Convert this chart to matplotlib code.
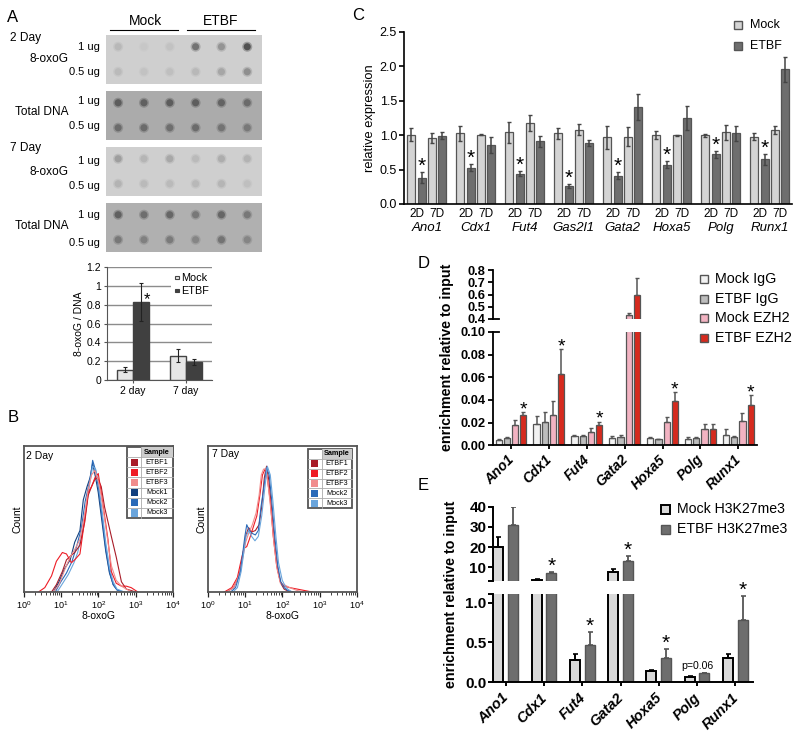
import numpy as np
import matplotlib
matplotlib.use('Agg')
import matplotlib.pyplot as plt
from matplotlib.patches import Rectangle
from matplotlib.transforms import ScaledTranslation

plt.rcParams['font.family'] = ['Liberation Sans', 'DejaVu Sans']
plt.rcParams['mathtext.default'] = 'regular'

# ---- panel A dot blots, grey level of every dot
blot_bg = [.81, .67, .81, .69]
blot_dots = [
	[[.72,.78,.76,.45,.58,.32], [.73,.76,.75,.72,.65,.56]],
	[[.36,.38,.36,.37,.39,.42], [.42,.42,.43,.42,.45,.47]],
	[[.62,.71,.66,.73,.68,.70], [.70,.73,.73,.72,.71,.75]],
	[[.38,.43,.40,.47,.40,.47], [.47,.50,.48,.52,.45,.52]],
]
# ---- panel A bars
a_days = ['2 day', '7 day']
a_mock = [.11, .26]
a_mock_err = [.03, .065]
a_etbf = [.83, .195]
a_etbf_err = [.2, .03]

# ---- panel B histograms, log10 of signal and count in percent of the y axis
b2_etbf1_x = [.75,.88,1.04,1.15,1.28,1.37,1.51,1.64,1.73,1.82,1.91,1.98,2.08,2.17,2.26,2.35,2.48,2.62,2.75,2.88,3.0]
b2_etbf1_y = [0,5,14,22,25,27,32,48,66,72,77,78,72,58,48,38,24,7,2,1,0]
b2_etbf2_x = [.40,.57,.75,.88,1.04,1.15,1.28,1.37,1.51,1.64,1.73,1.82,1.91,2.0,2.08,2.17,2.26,2.35,2.48,2.62,2.75,2.88,3.06]
b2_etbf2_y = [0,3,11,21,27,26,20,22,26,50,68,72,78,81,68,52,36,14,6,4,4,3,0]
b2_etbf3_x = [.8,.95,1.1,1.25,1.37,1.51,1.64,1.73,1.82,1.91,2.0,2.08,2.17,2.26,2.35,2.48,2.62,2.75,2.9]
b2_etbf3_y = [0,5,15,24,29,36,54,70,80,83,76,66,50,34,18,8,4,2,0]
b2_mock1_x = [.8,.95,1.1,1.25,1.37,1.51,1.6,1.7,1.78,1.85,1.93,2.0,2.1,2.2,2.3,2.4,2.5,2.65]
b2_mock1_y = [0,7,16,22,34,42,63,72,78,88,78,68,48,28,13,5,1.5,0]
b2_mock2_x = [.85,1.0,1.15,1.3,1.42,1.55,1.65,1.72,1.8,1.85,1.93,2.0,2.1,2.2,2.3,2.4,2.5,2.65]
b2_mock2_y = [0,7,13,21,31,44,62,70,80,90,83,72,52,30,14,5,1.5,0]
b2_mock3_x = [.9,1.05,1.2,1.35,1.45,1.58,1.68,1.76,1.85,1.93,2.0,2.1,2.2,2.3,2.4,2.5,2.7]
b2_mock3_y = [0,6,12,20,27,42,58,72,86,84,75,56,34,17,7,2,0]

b7_etbf1_x = [.5,.7,.85,.95,1.02,1.1,1.18,1.28,1.38,1.45,1.52,1.58,1.65,1.72,1.8,1.88,1.96,2.05,2.2]
b7_etbf1_y = [0,3,12,26,38,44,41,42,46,58,78,86,75,55,32,15,6,2,0]
b7_etbf2_x = [.45,.65,.8,.92,.98,1.05,1.12,1.22,1.32,1.4,1.47,1.54,1.6,1.68,1.76,1.85,1.95,2.05,2.2,2.4,2.6,2.8]
b7_etbf2_y = [0,3,10,24,30,31,36,44,52,66,80,84,78,62,38,18,7,4,3,2,1,0]
b7_etbf3_x = [.5,.7,.85,.95,1.02,1.1,1.2,1.3,1.38,1.44,1.5,1.56,1.62,1.7,1.78,1.86,1.95,2.05,2.2,2.4,2.6]
b7_etbf3_y = [0,3,12,24,34,40,46,54,66,80,84,84,74,55,33,16,6,5,3,1,0]
b7_mock2_x = [.62,.75,.88,.95,1.0,1.05,1.12,1.2,1.28,1.36,1.43,1.5,1.58,1.65,1.72,1.8,1.88,1.96,2.05,2.15,2.3]
b7_mock2_y = [0,3,14,28,38,46,42,40,39,42,58,70,85,80,62,38,18,7,3,1,0]
b7_mock3_x = [.68,.8,.9,.97,1.03,1.1,1.18,1.27,1.36,1.45,1.52,1.6,1.68,1.75,1.83,1.9,2.0,2.1,2.25]
b7_mock3_y = [0,3,14,27,38,42,38,35,38,52,68,86,80,62,38,20,8,3,0]

# ---- panel C
c_genes = ['Ano1','Cdx1','Fut4','Gas2l1','Gata2','Hoxa5','Polg','Runx1']
c_mock2 = [1.01,1.03,1.04,1.03,.97,1.0,1.0,.98]
c_etbf2 = [.38,.53,.44,.26,.41,.57,.72,.65]
c_mock7 = [.96,1.01,1.18,1.08,.98,1.0,1.04,1.08]
c_etbf7 = [.99,.86,.91,.89,1.41,1.25,1.03,1.96]
c_mock2_err = [.09,.11,.15,.08,.17,.06,.02,.05]
c_etbf2_err = [.08,.05,.04,.03,.05,.05,.05,.08]
c_mock7_err = [.07,.01,.12,.08,.14,.01,.11,.06]
c_etbf7_err = [.05,.12,.08,.04,.19,.18,.11,.18]

# ---- panel D
d_genes = ['Ano1','Cdx1','Fut4','Gata2','Hoxa5','Polg','Runx1']
d_mock_igg = [.005,.0185,.008,.0065,.0065,.006,.0095]
d_etbf_igg = [.0065,.021,.008,.0075,.0055,.0065,.0075]
d_mock_ezh2 = [.0175,.027,.0115,.43,.021,.014,.0215]
d_etbf_ezh2 = [.0265,.063,.018,.60,.0395,.0145,.036]
d_mock_igg_err = [.0005,.0075,.0015,.0015,.001,.001,.005]
d_etbf_igg_err = [.001,.008,.0015,.0015,.0005,.001,.001]
d_mock_ezh2_err = [.0045,.012,.0035,.02,.004,.0045,.007]
d_etbf_ezh2_err = [.003,.022,.003,.135,.0075,.004,.008]
d_stars = [True,True,True,False,True,False,True]

# ---- panel E
e_genes = ['Ano1','Cdx1','Fut4','Gata2','Hoxa5','Polg','Runx1']
e_mock = [20,3.7,.28,7.8,.14,.07,.30]
e_etbf = [31,7,.47,13.3,.30,.115,.78]
e_mock_err = [5,.4,.07,1.3,.015,.015,.06]
e_etbf_err = [9,.7,.16,2.4,.12,.005,.30]
e_stars = [False,True,True,True,True,False,True]

fig = plt.figure(figsize=(8,7.34), dpi=100)

def px_axes(x0,y0,x1,y1):
	# axes from pixel box, y counted from top of the picture
	return fig.add_axes([x0/800., 1-y1/734., (x1-x0)/800., (y1-y0)/734.])

def clean(ax,lw=1.,col='k',size=9,bold=False):
	ax.spines['top'].set_visible(False)
	ax.spines['right'].set_visible(False)
	ax.spines['left'].set_linewidth(lw)
	ax.spines['bottom'].set_linewidth(lw)
	ax.spines['left'].set_color(col)
	ax.spines['bottom'].set_color(col)
	ax.patch.set_alpha(0)
	ax.tick_params(width=lw,color=col,labelsize=size,length=3.5,pad=1.5)
	if bold:
		for t in ax.get_yticklabels(): t.set_fontweight('bold')

def star(ax,x,y,off=1.,size=15):
	ax.annotate('*',xy=(x,y),xytext=(0,off),textcoords='offset points',ha='center',va='center',
		fontsize=size,annotation_clip=False,color='k')

def shift_labels(ax,dx):
	# rotated gene names sit a few pixels left of the anchor
	for t in ax.get_xticklabels():
		t.set_transform(t.get_transform()+ScaledTranslation(dx/100.,0,fig.dpi_scale_trans))

# ##################### A blots ########################
blot_boxes = [(35,84),(91,140),(147,196),(203,252)]
col_ind = np.arange(6)
for box,bg,rows in zip(blot_boxes,blot_bg,blot_dots):
	ax = px_axes(106,box[0],261.7,box[1])
	ax.set_facecolor(str(bg))
	ax.set_xlim(-.47,5.56)
	ax.set_ylim(1.49,-.47)
	ax.set_xticks([])
	ax.set_yticks([])
	for s in ax.spines.values(): s.set_visible(False)
	for r,row in enumerate(rows):
		greys = np.array(row)
		halo = [(g,g,g,.4) for g in greys]
		core = [(g,g,g,1.) for g in greys]
		ax.scatter(col_ind,[r]*6,s=52,c=halo,linewidths=0)
		ax.scatter(col_ind,[r]*6,s=26,c=core,linewidths=0)

# ##################### A bars ########################
ax = px_axes(106.5,267.3,212,380)
xpos = np.arange(2)
wd = .302
ax.set_xlim(-.198,1.792)
ax.set_ylim(0,1.2)
ax.set_yticks(np.arange(0,1.21,.2))
ax.set_yticklabels(['0','0.2','0.4','0.6','0.8','1','1.2'])
ax.set_xticks(xpos+wd)
ax.set_xticklabels(a_days)
ax.set_axisbelow(True)
ax.yaxis.grid(True,color='#8c8c8c',lw=1)
ebar = dict(ecolor='#222222',elinewidth=.8,capsize=1.5,capthick=.8)
ax.bar(xpos,a_mock,wd,yerr=a_mock_err,color='#e6e6e6',edgecolor='#444444',lw=1,error_kw=ebar,align='edge',zorder=3)
ax.bar(xpos+wd,a_etbf,wd,yerr=a_etbf_err,color='#404040',edgecolor='#404040',lw=1,error_kw=ebar,align='edge',zorder=3)
clean(ax,.8,'#555555',7.5)
ax.tick_params(pad=2,length=2)
ax.set_ylabel('8-oxoG / DNA',fontsize=7.5,labelpad=2)
star(ax,.566,a_etbf[0]+a_etbf_err[0],-12,12)

# ##################### B histograms ########################
col_etbf1, col_etbf2, col_etbf3 = '#a81c28', '#ee1c25', '#f08c8c'
col_mock1, col_mock2, col_mock3 = '#12407e', '#2a6ab8', '#6aa5dc'

def hist_panel(box,curves):
	ax = px_axes(*box)
	ax.set_xscale('log')
	ax.set_xlim(1,1e4)
	ax.set_ylim(0,100)
	for xl,yl,c in curves:
		ax.plot(np.power(10.,xl),yl,color=c,lw=.8)
	ax.set_yticks([])
	ax.tick_params(which='major',length=3.5,width=.9,labelsize=6.5,pad=2,color='#222222')
	ax.tick_params(which='minor',length=1.8,width=.6,color='#222222')
	ax.xaxis.set_major_locator(matplotlib.ticker.LogLocator(base=10,numticks=6))
	ax.xaxis.set_minor_locator(matplotlib.ticker.LogLocator(base=10,subs=np.arange(2,10),numticks=6))
	for s in ax.spines.values():
		s.set_linewidth(1.3)
		s.set_color('#555555')
	ax.set_xlabel('8-oxoG',fontsize=7.5,labelpad=0)
	ax.set_ylabel('Count',fontsize=7.5,labelpad=1)
	return ax

hist_panel((23.5,445.7,173,592),[
	(b2_mock1_x,b2_mock1_y,col_mock1),(b2_mock2_x,b2_mock2_y,col_mock2),(b2_mock3_x,b2_mock3_y,col_mock3),
	(b2_etbf1_x,b2_etbf1_y,col_etbf1),(b2_etbf2_x,b2_etbf2_y,col_etbf2),(b2_etbf3_x,b2_etbf3_y,col_etbf3)])
hist_panel((207.5,445.7,357,592),[
	(b7_etbf1_x,b7_etbf1_y,col_etbf1),(b7_etbf2_x,b7_etbf2_y,col_etbf2),(b7_etbf3_x,b7_etbf3_y,col_etbf3),
	(b7_mock2_x,b7_mock2_y,col_mock2),(b7_mock3_x,b7_mock3_y,col_mock3)])

# ##################### C ########################
ax = px_axes(404,32,792,204)
wd,st,fs = .163,.21,.149
x_c = np.arange(len(c_genes))
ax.set_xlim(0,388/49.)
ax.set_ylim(0,2.5)
ebar = dict(ecolor='#444444',elinewidth=1.1,capsize=1.6,capthick=1.)
c_series = [(c_mock2,c_mock2_err,'#d4d4d4'),(c_etbf2,c_etbf2_err,'#6e6e6e'),(c_mock7,c_mock7_err,'#d4d4d4'),(c_etbf7,c_etbf7_err,'#6e6e6e')]
for j,(val,err,col) in enumerate(c_series):
	ax.bar(x_c+fs+j*st,val,wd,yerr=err,color=col,edgecolor='#555555',lw=.9,error_kw=ebar)
ax.set_yticks(np.arange(0,2.51,.5))
ax.set_xticks(np.concatenate([x_c+fs+.105,x_c+fs+.105+.42]))
ax.set_xticklabels(['2D']*8+['7D']*8)
clean(ax,1.2,'k',9)
ax.tick_params(axis='x',length=0,pad=3,labelsize=8.5)
ax.set_ylabel('relative expression',fontsize=9.3,labelpad=3)
for i,g in enumerate(c_genes):
	ax.annotate(g,xy=(x_c[i]+fs+.315,0),xytext=(0,-17),textcoords='offset points',ha='center',va='center',style='italic',fontsize=9.5,annotation_clip=False)
	star(ax,x_c[i]+fs+st,c_etbf2[i]+c_etbf2_err[i],4.)

# ##################### D ########################
ax_lo = px_axes(492.7,332,756.7,445.3)
ax_hi = px_axes(492.7,270.3,756.7,318.7)
wd,st,fs = .163,.216,.158
x_d = np.arange(len(d_genes))
ebar = dict(ecolor='#555555',elinewidth=1.1,capsize=1.4,capthick=1.)
d_series = [(d_mock_igg,d_mock_igg_err,'#f2f2f2'),(d_etbf_igg,d_etbf_igg_err,'#bdbdbd'),
	(d_mock_ezh2,d_mock_ezh2_err,'#f2b3c2'),(d_etbf_ezh2,d_etbf_ezh2_err,'#d62a1e')]
for a in [ax_lo,ax_hi]:
	a.set_xlim(0,264/37.9)
	for j,(val,err,col) in enumerate(d_series):
		a.bar(x_d+fs+j*st,val,wd,yerr=[np.zeros(7),err],color=col,edgecolor='#555555',lw=.9,error_kw=ebar)
ax_lo.set_ylim(0,.1)
ax_hi.set_ylim(.4,.8)
ax_lo.set_yticks(np.arange(0,.101,.02))
ax_lo.set_yticklabels(['0.00','0.02','0.04','0.06','0.08','0.10'])
ax_hi.set_yticks([.4,.5,.6,.7,.8])
ax_hi.set_yticklabels(['0.4','0.5','0.6','0.7','0.8'])
ax_lo.set_xticks(x_d+fs+1.5*st)
ax_lo.set_xticklabels(d_genes,rotation=45,ha='right',rotation_mode='anchor',style='italic',fontweight='bold')
clean(ax_lo,1.3,'k',9.3,True)
clean(ax_hi,1.3,'k',9.3,True)
ax_hi.spines['bottom'].set_visible(False)
ax_hi.set_xticks([])
ax_lo.tick_params(axis='x',pad=2,length=3,labelsize=10)
shift_labels(ax_lo,-4)
for i in x_d:
	if d_stars[i]: star(ax_lo,i+fs+3*st,d_etbf_ezh2[i]+d_etbf_ezh2_err[i],1.5,14)

# ##################### E ########################
ax_lo = px_axes(493.3,594.3,753,682.3)
ax_hi = px_axes(493.3,506.7,753,581)
wd,st,fs = .26,.383,.13
x_e = np.arange(len(e_genes))
for a in [ax_lo,ax_hi]:
	a.set_xlim(0,259.7/38.3)
	a.bar(x_e+fs,e_mock,wd,yerr=[np.zeros(7),e_mock_err],color='#d9d9d9',edgecolor='k',lw=1.4,
		error_kw=dict(ecolor='k',elinewidth=1.4,capsize=1.8,capthick=1.2))
	a.bar(x_e+fs+st,e_etbf,wd,yerr=[np.zeros(7),e_etbf_err],color='#6e6e6e',edgecolor='#555555',lw=1.,
		error_kw=dict(ecolor='#555555',elinewidth=1.3,capsize=1.8,capthick=1.2))
ax_lo.set_ylim(0,1.105)
ax_hi.set_ylim(3.2,40)
ax_lo.set_yticks([0,.5,1.,1.105])
ax_lo.set_yticklabels(['0.0','0.5','1.0',''])
ax_hi.set_yticks([3.2,10,20,30,40])
ax_hi.set_yticklabels(['','10','20','30','40'])
ax_lo.set_xticks(x_e+fs+st/2)
ax_lo.set_xticklabels(e_genes,rotation=45,ha='right',rotation_mode='anchor',style='italic',fontweight='bold')
clean(ax_lo,1.4,'k',11,True)
clean(ax_hi,1.4,'k',11,True)
ax_hi.spines['bottom'].set_visible(False)
ax_hi.set_xticks([])
ax_lo.tick_params(axis='x',pad=3,length=3,labelsize=10.5)
shift_labels(ax_lo,-4)
for i in x_e:
	if e_stars[i]:
		if e_etbf[i]>1.1: star(ax_hi,i+fs+st,e_etbf[i]+e_etbf_err[i],4.)
		else: star(ax_lo,i+fs+st,e_etbf[i]+e_etbf_err[i],4.)
ax_lo.annotate('p=0.06',xy=(5+fs+st/2,.115+.005),xytext=(0,5),textcoords='offset points',ha='center',va='center',fontsize=7.6,annotation_clip=False)

# ##################### texts in pixel coordinates ########################
ov = fig.add_axes([0,0,1,1],zorder=20)
ov.set_xlim(0,800)
ov.set_ylim(734,0)
ov.set_axis_off()

def tx(x,y,s,size=8.6,ha='left',**kw):
	ov.text(x,y,s,fontsize=size,ha=ha,va='center',**kw)

def square(x,y,fc,ec='#555555',sz=8.,lw=1.):
	ov.add_patch(Rectangle((x-sz/2.,y-sz/2.),sz,sz,facecolor=fc,edgecolor=ec,lw=lw))

for s,x,y in [('A',7,17),('B',8,418),('C',352,15),('D',418,263),('E',418,485)]:
	tx(x,y,s,12)

# A
tx(145,21,'Mock',10,'center')
tx(221,21,'ETBF',10,'center')
ov.plot([110,178],[30,30],color='k',lw=.8)
ov.plot([187,255],[30,30],color='k',lw=.8)
tx(10,38,'2 Day')
tx(30,59,'8-oxoG')
tx(15,112,'Total DNA')
tx(10,148,'7 Day')
tx(30,172,'8-oxoG')
tx(15,226,'Total DNA')
for y,s in [(47,'1 ug'),(72,'0.5 ug'),(101,'1 ug'),(126,'0.5 ug'),(161,'1 ug'),(186,'0.5 ug'),(215,'1 ug'),(243,'0.5 ug')]:
	tx(100,y,s,8,'right')
ov.add_patch(Rectangle((171,272),41.5,28,facecolor='w',edgecolor='none'))
square(177,277.7,'#e6e6e6','#444444',3.5,.8)
square(177,290.5,'#404040','#404040',3.5,.8)
tx(181,277.7,'Mock',7.8)
tx(181,290.5,'ETBF',7.8)

# B, small sample tables
def sample_table(x0,y0,x1,y1,names,cols):
	n = len(names)+1
	h = (y1-y0)/float(n)
	w0 = 14.
	ov.add_patch(Rectangle((x0,y0),x1-x0,y1-y0,facecolor='w',edgecolor='#555555',lw=1.3,zorder=3))
	ov.add_patch(Rectangle((x0+w0,y0),x1-x0-w0,h,facecolor='#cccccc',edgecolor='none',zorder=3))
	ov.text((x0+w0+x1)/2.,y0+h/2.,'Sample',fontsize=5.2,fontweight='bold',ha='center',va='center',zorder=4)
	for k,(nm,c) in enumerate(zip(names,cols)):
		yy = y0+h*(k+1)
		ov.plot([x0,x1],[yy,yy],color='#aaaaaa',lw=.6,zorder=4)
		ov.add_patch(Rectangle((x0+3.5,yy+1.5),7,h-3,facecolor=c,edgecolor='none',zorder=4))
		ov.text((x0+w0+x1)/2.,yy+h/2.,nm,fontsize=5.2,ha='center',va='center',zorder=4)
	ov.plot([x0+w0,x0+w0],[y0,y1],color='#aaaaaa',lw=.6,zorder=4)

tx(26,456,'2 Day',7.5)
tx(212,454,'7 Day',7.5)
sample_table(127,447,173,518,['ETBF1','ETBF2','ETBF3','Mock1','Mock2','Mock3'],
	[col_etbf1,col_etbf2,col_etbf3,col_mock1,col_mock2,col_mock3])
sample_table(307.5,449,352,508,['ETBF1','ETBF2','ETBF3','Mock2','Mock3'],
	[col_etbf1,col_etbf2,col_etbf3,col_mock2,col_mock3])

# C legend
square(738,25,'#d4d4d4')
square(738,46,'#6e6e6e')
tx(750,25,'Mock',9)
tx(750,46,'ETBF',9)

# D legend, the axis break carries two longer ticks
for y,s,c in [(278.7,'Mock IgG','#f2f2f2'),(298.7,'ETBF IgG','#bdbdbd'),(318.3,'Mock EZH2','#f2b3c2'),(338,'ETBF EZH2','#d62a1e')]:
	square(703.5,y,c)
	tx(715,y,s,10.3)
for y in [318.7,332]:
	ov.plot([492.7,499],[y,y],color='k',lw=1.3)
tx(447.5,357.5,'enrichment relative to input',10.3,'center',rotation=90,fontweight='bold')

# E legend
square(665.5,509.3,'#d9d9d9','k',8.5,1.4)
square(665.5,529.3,'#6e6e6e','#555555',8.5)
tx(676.7,509.3,'Mock H3K27me3',10.2)
tx(676.7,529.3,'ETBF H3K27me3',10.2)
tx(451,594.5,'enrichment relative to input',10.3,'center',rotation=90,fontweight='bold')

plt.savefig('out.png',dpi=100)
